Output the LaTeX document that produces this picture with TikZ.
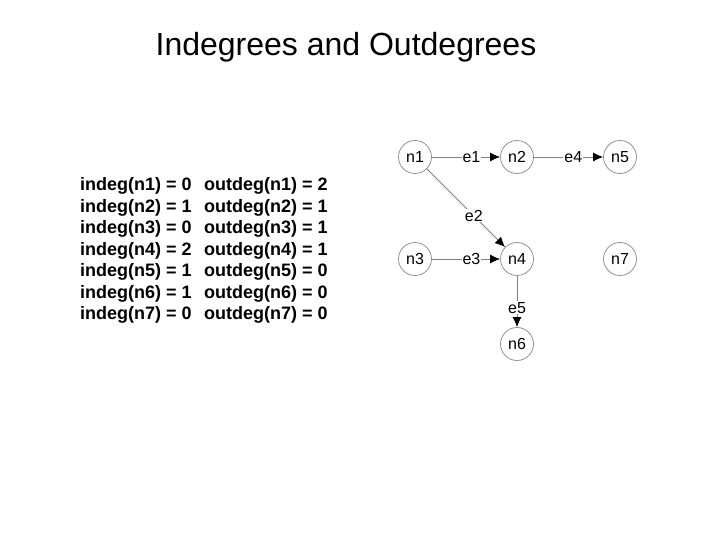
\documentclass[tikz,border=0pt]{standalone}
\usepackage{fontspec}
\setmainfont{Liberation Sans}
\usetikzlibrary{arrows.meta}
\begin{document}
\begin{tikzpicture}[x=1pt,y=-1pt,
  vert/.style={circle,draw=gray!85,line width=0.8pt,minimum size=33pt,inner sep=0pt,font=\fontsize{16}{19}\selectfont},
  elab/.style={fill=white,inner sep=1pt,font=\fontsize{16}{19}\selectfont},
  edge/.style={draw=gray,line width=0.8pt,-{Latex[length=10pt,width=9pt,black]}},
  deg/.style={anchor=base west,inner sep=0pt,font=\fontsize{18}{21}\selectfont\bfseries},
  ttl/.style={anchor=base,inner sep=0pt,font=\fontsize{32}{38}\selectfont}]
\useasboundingbox (0,0) rectangle (720,540);
\node[ttl] (title) at (346,56) {Indegrees and Outdegrees};
\node[deg] (i1) at (80,190.5) {indeg(n1) = 0};
\node[deg] (i2) at (80,212) {indeg(n2) = 1};
\node[deg] (i3) at (80,233.5) {indeg(n3) = 0};
\node[deg] (i4) at (80,255) {indeg(n4) = 2};
\node[deg] (i5) at (80,276.5) {indeg(n5) = 1};
\node[deg] (i6) at (80,298) {indeg(n6) = 1};
\node[deg] (i7) at (80,319.5) {indeg(n7) = 0};
\node[deg] (o1) at (204,190.5) {outdeg(n1) = 2};
\node[deg] (o2) at (204,212) {outdeg(n2) = 1};
\node[deg] (o3) at (204,233.5) {outdeg(n3) = 1};
\node[deg] (o4) at (204,255) {outdeg(n4) = 1};
\node[deg] (o5) at (204,276.5) {outdeg(n5) = 0};
\node[deg] (o6) at (204,298) {outdeg(n6) = 0};
\node[deg] (o7) at (204,319.5) {outdeg(n7) = 0};
\node[vert] (n1) at (415,157) {n1};
\node[vert] (n2) at (517,157) {n2};
\node[vert] (n5) at (620,157) {n5};
\node[vert] (n3) at (415,259) {n3};
\node[vert] (n4) at (517,259) {n4};
\node[vert] (n7) at (620,259) {n7};
\node[vert] (n6) at (517,344) {n6};
\draw[edge] (n1) -- node[elab,pos=0.58] (e1) {e1} (n2);
\draw[edge] (n2) -- node[elab,pos=0.57] (e4) {e4} (n5);
\draw[edge] (n1) -- node[elab,pos=0.6] (e2) {e2} (n4);
\draw[edge] (n3) -- node[elab,pos=0.58] (e3) {e3} (n4);
\draw[edge] (n4) -- node[elab,pos=0.62] (e5) {e5} (n6);
\end{tikzpicture}
\end{document}
